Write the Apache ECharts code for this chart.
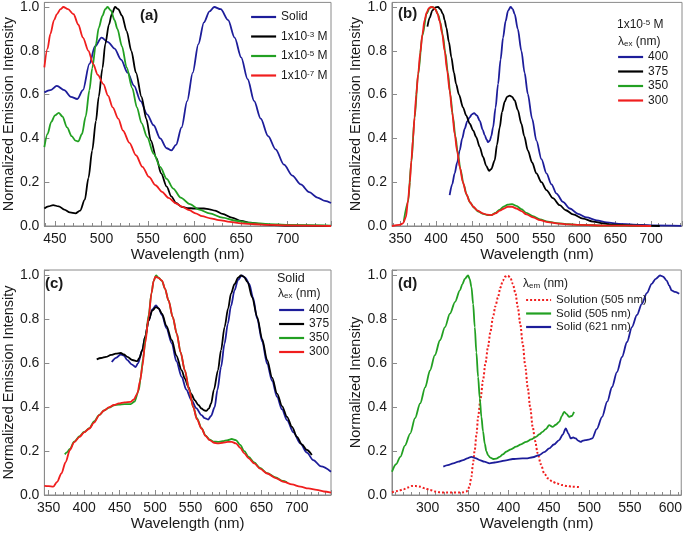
<!DOCTYPE html>
<html><head><meta charset="utf-8">
<script src="https://cdn.jsdelivr.net/npm/echarts@6/dist/echarts.min.js"></script>
<style>html,body{margin:0;padding:0;background:#fff}#c{width:685px;height:535px}</style>
</head><body><div id="c"></div>
<script>
// ---------- DATA ----------
// Panel (a): emission spectra, solid vs solutions
const aSolid = [[438.6,0.61],[445,0.62],[452,0.64],[460,0.62],[467,0.59],[474,0.58],[480,0.62],[487,0.74],[493,0.82],[500,0.86],[507,0.84],[514,0.81],[521,0.76],[528,0.70],[535,0.64],[542,0.57],[549,0.51],[556,0.46],[563,0.40],[570,0.355],[575,0.345],[580,0.37],[586,0.45],[592,0.57],[598,0.70],[604,0.83],[610,0.93],[616,0.98],[621,1.0],[628,0.99],[636,0.94],[643,0.86],[650,0.77],[657,0.67],[664,0.57],[671,0.49],[679,0.41],[687,0.35],[696,0.28],[705,0.23],[714,0.19],[723,0.155],[732,0.13],[740,0.115],[746.5,0.105]];
const aConc3 = [[438.6,0.08],[443,0.09],[448,0.095],[454,0.09],[460,0.075],[466,0.062],[472,0.058],[477,0.07],[482,0.12],[486,0.22],[490,0.345],[494,0.48],[497,0.59],[501,0.72],[504,0.83],[508,0.92],[511,0.967],[514.5,1.0],[518,0.99],[522,0.96],[527,0.89],[532,0.80],[537,0.70],[543,0.59],[548,0.49],[553,0.39],[559,0.31],[564,0.24],[570,0.18],[575,0.135],[580,0.105],[586,0.088],[592,0.082],[600,0.08],[610,0.08],[616,0.076],[622,0.07],[630,0.055],[640,0.038],[650,0.023],[660,0.015],[671,0.009],[685,0.004],[700,0.002],[746.5,0.0]];
const aConc5 = [[438.6,0.36],[442,0.42],[446,0.475],[450,0.505],[454,0.517],[458,0.5],[463,0.45],[468,0.41],[472,0.39],[475,0.386],[479,0.42],[483,0.5],[487,0.62],[490,0.72],[494,0.83],[497,0.905],[501,0.96],[504,0.99],[506.5,1.0],[510,0.985],[514,0.94],[517,0.9],[522,0.82],[527,0.724],[533,0.63],[538,0.542],[543,0.47],[549,0.406],[556,0.33],[563,0.27],[570,0.215],[577,0.171],[585,0.13],[595,0.10],[605,0.075],[616,0.058],[630,0.038],[644,0.024],[660,0.014],[680,0.009],[700,0.005],[746.5,0.002]];
const aConc7 = [[438.6,0.724],[442,0.81],[445,0.876],[449,0.94],[452,0.967],[456,0.99],[459,1.0],[464,0.99],[470,0.967],[475,0.92],[480,0.86],[486,0.80],[491,0.74],[496,0.69],[502,0.648],[507,0.595],[512,0.542],[518,0.49],[523,0.436],[530,0.38],[537,0.323],[544,0.27],[551,0.224],[558,0.186],[565,0.156],[572,0.128],[580,0.103],[587,0.087],[594,0.073],[601,0.058],[608,0.045],[617,0.035],[626,0.027],[638,0.019],[650,0.012],[665,0.008],[680,0.005],[700,0.003],[746.5,0.0]];
// Panel (b): 1x10^-5 M solution, different excitation wavelengths
const bEx400 = [[419,0.141],[422.5,0.19],[426,0.24],[429.5,0.29],[433,0.345],[436.5,0.4],[440,0.444],[443.5,0.478],[447,0.497],[450,0.51],[453,0.515],[457,0.505],[461,0.48],[465,0.44],[468,0.414],[470.5,0.395],[472.5,0.383],[475,0.39],[477,0.41],[479.5,0.45],[483,0.54],[486.5,0.648],[490,0.76],[493.5,0.86],[497,0.935],[500.4,0.982],[504,1.0],[507,0.99],[509.7,0.967],[514,0.9],[519,0.80],[523.5,0.7],[528,0.603],[534,0.49],[540,0.39],[547,0.305],[554,0.24],[561,0.19],[568,0.148],[577,0.11],[586.5,0.08],[598,0.055],[610,0.039],[624,0.026],[638,0.017],[655,0.01],[675,0.006],[700,0.003],[742,0.001]];
const bEx375 = [[388,0.91],[391,0.95],[395,0.985],[399,0.998],[402.8,1.0],[406,0.99],[409.8,0.967],[412,0.94],[414.4,0.906],[418,0.84],[421.4,0.77],[425,0.70],[428,0.648],[432,0.6],[437.6,0.542],[442,0.505],[447,0.467],[452,0.435],[456,0.406],[461,0.36],[465.6,0.315],[470,0.275],[474,0.252],[477,0.26],[481.8,0.30],[485,0.37],[488.8,0.45],[492,0.52],[495.8,0.568],[499,0.59],[502.8,0.595],[506,0.59],[509.7,0.573],[514,0.53],[519,0.467],[523,0.41],[528,0.345],[534,0.29],[540,0.24],[547,0.2],[554,0.164],[563,0.127],[572.5,0.095],[581,0.072],[591,0.053],[605,0.034],[619,0.02],[633,0.012],[647,0.006],[680,0.002],[712,0.0]];
const bEx350 = [[355,0.02],[361,0.11],[365.6,0.29],[370,0.49],[375,0.69],[381,0.87],[387,0.97],[391,0.995],[395,1.0],[399,0.99],[403,0.965],[406,0.93],[409.5,0.87],[413,0.79],[416.5,0.70],[420,0.60],[423.5,0.5],[427,0.41],[430.5,0.33],[434,0.26],[438.5,0.19],[443,0.14],[448,0.105],[453,0.083],[459,0.066],[466,0.055],[472,0.05],[477,0.05],[483,0.06],[489,0.075],[495,0.09],[500,0.098],[506,0.1],[512,0.092],[519,0.077],[526,0.06],[535,0.045],[545,0.03],[556,0.02],[568,0.013],[585,0.008],[600,0.005],[638,0.002],[700,0.0]];
const bEx300 = [[338.6,0],[349,0.005],[354,0.012],[358,0.04],[361,0.118],[363.5,0.2],[365.6,0.30],[368,0.4],[370,0.497],[372.5,0.6],[375,0.694],[378,0.79],[381,0.876],[384,0.94],[387,0.975],[390,0.995],[393,1.0],[396,0.998],[399,0.99],[402,0.97],[405,0.936],[408.5,0.88],[412,0.8],[415.5,0.71],[419,0.618],[422.5,0.52],[426,0.42],[429.5,0.34],[433,0.27],[437.5,0.2],[442,0.148],[447,0.11],[452,0.088],[458,0.07],[465,0.058],[471,0.052],[477,0.05],[483,0.058],[489,0.07],[495,0.08],[500,0.088],[506,0.088],[512,0.08],[519,0.068],[526,0.053],[535,0.04],[545,0.027],[556,0.018],[568,0.012],[585,0.007],[600,0.005],[638,0.002],[700,0.0]];
// Panel (c): solid, different excitation wavelengths
const cEx400 = [[439,0.606],[445,0.625],[451.7,0.64],[456,0.635],[461,0.614],[467,0.595],[472.6,0.583],[476,0.6],[482,0.66],[486,0.72],[491,0.795],[496,0.845],[501.4,0.864],[505,0.85],[509.8,0.82],[516,0.76],[523.7,0.69],[530,0.61],[537.6,0.538],[544,0.48],[551.5,0.432],[558,0.396],[565.5,0.364],[570,0.35],[574.7,0.344],[579,0.36],[584,0.40],[588,0.48],[593,0.583],[598,0.69],[602.6,0.78],[607,0.86],[612,0.932],[617,0.98],[622,1.0],[627,0.99],[632.8,0.962],[638,0.9],[644,0.803],[651,0.7],[658,0.598],[665,0.52],[672,0.447],[679,0.39],[686,0.341],[695,0.285],[704.8,0.235],[714,0.193],[723,0.159],[734,0.13],[748,0.106]];
const cEx375 = [[417.8,0.618],[424,0.624],[430.8,0.629],[438,0.638],[444.7,0.644],[451.7,0.647],[456,0.64],[461,0.629],[468,0.615],[475,0.61],[478,0.625],[482,0.66],[486,0.72],[491,0.795],[496,0.84],[501.4,0.856],[505,0.85],[509.8,0.826],[516,0.77],[523.7,0.705],[530,0.635],[537.6,0.568],[542,0.53],[546.9,0.492],[551,0.46],[556,0.432],[561,0.41],[565.5,0.394],[569,0.386],[572.4,0.383],[576,0.395],[579,0.417],[583,0.48],[588.7,0.568],[593,0.66],[598,0.765],[603,0.85],[607,0.917],[612,0.96],[617,0.99],[621,1.0],[625,0.995],[630.5,0.97],[637,0.9],[644,0.81],[651,0.71],[658,0.614],[665,0.535],[672,0.462],[679,0.405],[686,0.356],[693,0.31],[700,0.265],[707,0.23],[714,0.205],[721,0.182]];
const cEx350 = [[372.8,0.185],[376,0.195],[380,0.21],[386,0.243],[393.7,0.268],[400,0.287],[407.6,0.305],[414,0.335],[421.5,0.365],[428,0.385],[435.5,0.398],[442,0.408],[449,0.412],[457,0.414],[465.6,0.414],[471,0.425],[477,0.477],[480,0.54],[483,0.62],[487,0.72],[491,0.82],[495,0.92],[498,0.975],[501.4,1.0],[505,0.99],[509.8,0.975],[514,0.94],[519,0.886],[525,0.81],[530.6,0.735],[536,0.65],[542,0.568],[548,0.48],[553.9,0.40],[559,0.35],[565.5,0.305],[571,0.272],[577,0.252],[583,0.243],[588.7,0.242],[595,0.245],[602.6,0.25],[608,0.255],[614,0.25],[620,0.228],[625.8,0.2],[632,0.173],[639.8,0.148],[648,0.123],[658,0.1],[670,0.08],[680,0.064],[686,0.058]];
const cEx300 = [[344,0.042],[350,0.04],[356.5,0.038],[362,0.06],[368,0.098],[374,0.15],[380,0.205],[386,0.24],[393.7,0.265],[400,0.285],[407.6,0.303],[414,0.33],[421.5,0.364],[428,0.385],[435.5,0.40],[442,0.41],[449,0.417],[457,0.422],[465.6,0.424],[470,0.435],[475,0.462],[479,0.52],[482,0.583],[486,0.69],[491,0.81],[495,0.92],[498,0.975],[500.5,0.995],[504,0.99],[509.8,0.977],[514,0.94],[519,0.886],[525,0.81],[530.6,0.735],[536,0.65],[542,0.568],[548,0.48],[553.9,0.40],[559,0.345],[565.5,0.303],[571,0.27],[577,0.25],[583,0.238],[588.7,0.235],[595,0.238],[602.6,0.242],[608,0.242],[614,0.235],[620,0.215],[625.8,0.19],[632,0.167],[639.8,0.144],[648,0.12],[658,0.098],[670,0.077],[681.5,0.06],[693,0.048],[704.8,0.038],[716,0.03],[728,0.023],[738,0.016],[748,0.011]];
// Panel (d): excitation spectra
const dSolution505 = [[256,0.012],[263,0.018],[270.3,0.026],[275,0.034],[280.6,0.041],[285,0.041],[290.8,0.038],[297,0.03],[303,0.023],[309,0.016],[315.3,0.012],[324,0.011],[331.7,0.011],[338,0.011],[344,0.012],[348,0.016],[350,0.023],[352,0.045],[354.2,0.083],[356,0.14],[358.3,0.205],[360.5,0.28],[362.4,0.356],[365.5,0.44],[368.5,0.523],[371.5,0.6],[374.6,0.674],[377.7,0.745],[380.8,0.81],[383.8,0.86],[386.9,0.90],[390,0.945],[393,0.977],[396,0.995],[399.2,1.0],[402.3,0.99],[405.3,0.962],[408.5,0.92],[411.5,0.856],[414.5,0.78],[417.6,0.689],[420.6,0.59],[423.7,0.492],[426.8,0.4],[429.9,0.31],[433,0.245],[436,0.19],[440,0.14],[444.2,0.098],[449,0.075],[454.4,0.06],[460,0.052],[466.7,0.045],[472,0.041],[478.9,0.038],[487,0.036]];
const dSolid505 = [[256,0.106],[261,0.14],[266.3,0.174],[272,0.225],[278.5,0.28],[284.5,0.35],[290.8,0.417],[297,0.49],[303,0.568],[309,0.637],[315.3,0.705],[321.5,0.765],[327.6,0.826],[334,0.88],[339.9,0.932],[343,0.96],[346,0.985],[350,1.0],[352,0.985],[354.2,0.947],[356.3,0.87],[358.3,0.765],[360.3,0.65],[362.4,0.538],[364.5,0.44],[366.5,0.356],[368.5,0.29],[370.6,0.235],[372.6,0.2],[374.6,0.182],[377.5,0.17],[380.8,0.164],[385,0.166],[389,0.174],[393,0.185],[397,0.197],[403,0.208],[409.4,0.22],[415.5,0.231],[421.7,0.242],[428,0.253],[434,0.265],[438,0.276],[442,0.288],[446,0.3],[450.3,0.318],[454.4,0.31],[458.5,0.32],[462.6,0.333],[466,0.36],[468.7,0.379],[471.5,0.37],[474.8,0.356],[478,0.36],[481,0.379]];
const dSolid621 = [[319.4,0.129],[325,0.136],[331.7,0.144],[338,0.152],[344,0.159],[349,0.167],[354.2,0.174],[359,0.168],[364.4,0.159],[370,0.152],[376.7,0.144],[383,0.148],[389,0.152],[397,0.158],[405.3,0.164],[413,0.166],[421.7,0.167],[430,0.172],[438,0.182],[444,0.195],[450.3,0.212],[456,0.23],[462.6,0.25],[467,0.275],[470.8,0.303],[474,0.28],[476.9,0.258],[480,0.262],[483,0.258],[486,0.248],[489.2,0.242],[492,0.248],[495.3,0.25],[499,0.252],[503.5,0.258],[509,0.3],[515.7,0.356],[522,0.425],[528,0.492],[534,0.56],[540.3,0.629],[546.5,0.697],[552.6,0.765],[558.7,0.82],[564.8,0.871],[571,0.92],[577,0.962],[582,0.985],[587.3,1.0],[591,0.995],[595.5,0.977],[598.5,0.955],[601.6,0.932],[606,0.925],[611,0.917]];

// Legend labels / axis names
const axisNameX = 'Wavelength (nm)';
const axisNameY1 = 'Normalized Emission Intensity';
const axisNameY2 = 'Normalized Intensity';

// ---------- STYLE ----------
const FONT = '"Liberation Sans", Arial, sans-serif';
const BLUE = '#1d1d9a', BLACK = '#000000', GREEN = '#22a022', RED = '#f01e1e';
const FRAME = '#8a8a8a', TXT = '#1a1a1a';
const LW = 1.8;

const grids = [
  {left: 41, top: 1, width: 290, height: 225},
  {left: 392, top: 1, width: 290, height: 225},
  {left: 41, top: 270, width: 290, height: 225},
  {left: 392, top: 270, width: 291, height: 225}
].map(g => Object.assign(g, {show: true, borderColor: FRAME, borderWidth: 1, backgroundColor: 'transparent', containLabel: false}));

const xRanges = [[438.6, 746.5], [338.6, 743], [344, 748], [256, 613.5]];
const yMax = [1.021, 1.021, 1.025, 1.025];

function majorX(i) {
  return {
    type: 'value', gridIndex: i, position: 'bottom', min: xRanges[i][0], max: xRanges[i][1],
    minInterval: 50, maxInterval: 50,
    axisLine: {show: true, onZero: false, lineStyle: {color: FRAME, width: 1}},
    axisTick: {show: true, inside: true, length: 5, lineStyle: {color: FRAME}},
    axisLabel: {margin: 6, fontSize: 14, color: TXT, fontFamily: FONT,
      formatter: v => (Math.abs(v / 50 - Math.round(v / 50)) < 1e-6 ? String(Math.round(v)) : '')},
    splitLine: {show: false},
    name: axisNameX, nameLocation: 'middle', nameGap: 19,
    nameTextStyle: {fontSize: 15, color: TXT, fontFamily: FONT}
  };
}
function minorX(i) {
  return {
    type: 'value', gridIndex: i, position: 'bottom', min: xRanges[i][0], max: xRanges[i][1],
    minInterval: 10, maxInterval: 10,
    axisLine: {show: false, onZero: false},
    axisTick: {show: true, inside: true, length: 3, lineStyle: {color: FRAME}},
    axisLabel: {show: false}, splitLine: {show: false}
  };
}
function yAx(i) {
  return {
    type: 'value', gridIndex: i, min: 0, max: yMax[i], minInterval: 0.2, maxInterval: 0.2,
    axisLine: {show: true, onZero: false, lineStyle: {color: FRAME, width: 1}},
    axisTick: {show: true, inside: true, length: 5, lineStyle: {color: FRAME}},
    axisLabel: {margin: 5, fontSize: 14, color: TXT, fontFamily: FONT,
      formatter: v => (Math.abs(v * 5 - Math.round(v * 5)) < 1e-6 ? v.toFixed(1) : '')},
    splitLine: {show: false},
    name: i === 3 ? axisNameY2 : axisNameY1, nameLocation: 'middle', nameGap: 25,
    nameTextStyle: {fontSize: 14.5, color: TXT, fontFamily: FONT}
  };
}

function line(name, data, color, gi, extra) {
  return Object.assign({
    type: 'line', name: name, data: data, xAxisIndex: gi, yAxisIndex: gi,
    showSymbol: false, symbol: 'none', smooth: 0.3, smoothMonotone: 'x',
    lineStyle: {color: color, width: LW}, itemStyle: {color: color},
    animation: false, silent: true
  }, extra || {});
}

const series = [
  line('a|Solid', aSolid, BLUE, 0),
  line('a|3', aConc3, BLACK, 0),
  line('a|5', aConc5, GREEN, 0),
  line('a|7', aConc7, RED, 0),
  line('b|400', bEx400, BLUE, 1),
  line('b|375', bEx375, BLACK, 1),
  line('b|350', bEx350, GREEN, 1),
  line('b|300', bEx300, RED, 1),
  line('c|400', cEx400, BLUE, 2),
  line('c|375', cEx375, BLACK, 2),
  line('c|350', cEx350, GREEN, 2),
  line('c|300', cEx300, RED, 2),
  line('d|sol', dSolution505, RED, 3, {lineStyle: {color: RED, width: 2, type: [2, 2]}}),
  line('d|s505', dSolid505, GREEN, 3),
  line('d|s621', dSolid621, BLUE, 3)
];

const legendText = {
  'a|Solid': 'Solid', 'a|3': '1x10{sup|-3} M', 'a|5': '1x10{sup|-5} M', 'a|7': '1x10{sup|-7} M',
  'b|400': '400', 'b|375': '375', 'b|350': '350', 'b|300': '300',
  'c|400': '400', 'c|375': '375', 'c|350': '350', 'c|300': '300',
  'd|sol': 'Solution (505 nm)', 'd|s505': 'Solid (505 nm)', 'd|s621': 'Solid (621 nm)'
};
const rich = {
  sup: {fontSize: 8, lineHeight: 8, verticalAlign: 'top', fontFamily: FONT, color: TXT},
  sub: {fontSize: 8, lineHeight: 8, verticalAlign: 'bottom', fontFamily: FONT, color: TXT}
};
function legend(names, left, top, gap, fs) {
  return {
    data: names, left: left, top: top, orient: 'vertical', padding: 0,
    itemWidth: 25, itemHeight: 12, itemGap: gap, selectedMode: false,
    itemStyle: {color: 'rgba(0,0,0,0)', borderColor: 'rgba(0,0,0,0)', borderWidth: 0, opacity: 0},
    lineStyle: {width: 2.2},
    textStyle: {fontSize: fs || 12, color: TXT, fontFamily: FONT, lineHeight: 12, rich: rich},
    formatter: n => legendText[n]
  };
}

function label(text, left, top, size, bold) {
  return {
    text: text, left: left, top: top, padding: 0,
    textStyle: {fontSize: size, fontWeight: bold ? 'bold' : 'normal', color: TXT, fontFamily: FONT, lineHeight: size, rich: rich}
  };
}

const option = {
  animation: false,
  grid: grids,
  xAxis: [majorX(0), majorX(1), majorX(2), majorX(3), minorX(0), minorX(1), minorX(2), minorX(3)],
  yAxis: [yAx(0), yAx(1), yAx(2), yAx(3)],
  legend: [
    legend(['a|Solid', 'a|3', 'a|5', 'a|7'], 250, 11, 7.5),
    legend(['b|400', 'b|375', 'b|350', 'b|300'], 617, 51, 2.5),
    legend(['c|400', 'c|375', 'c|350', 'c|300'], 278, 304, 2),
    legend(['d|sol', 'd|s505', 'd|s621'], 525, 294, 1.5, 11.5)
  ],
  title: [
    label('(a)', 140, 8, 15, true),
    label('(b)', 398, 6, 15, true),
    label('(c)', 45, 276, 15, true),
    label('(d)', 398, 276, 15, true),
    label('1x10{sup|-5} M', 617, 19, 12),
    label('λ{sub|ex} (nm)', 618, 36, 12),
    label('Solid', 277, 272, 12.5),
    label('λ{sub|ex} (nm)', 278, 288, 12),
    label('λ{sub|em} (nm)', 523, 278, 12)
  ],
  series: series
};

const chart = echarts.init(document.getElementById('c'), null, {renderer: 'canvas'});
chart.setOption(option);
</script>
</body></html>
